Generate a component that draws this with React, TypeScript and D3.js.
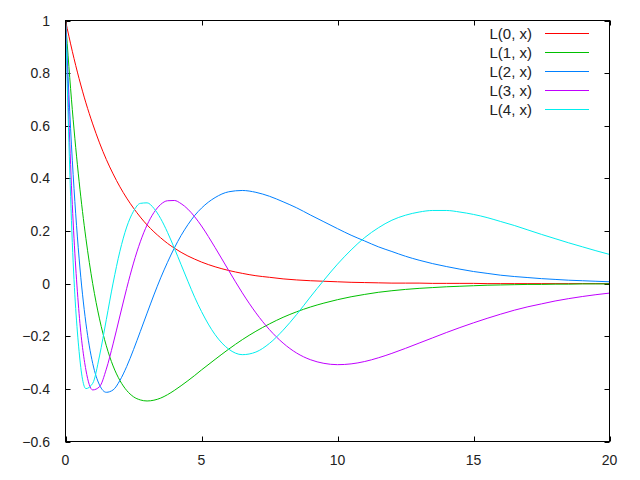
import React from 'react';
import * as d3 from 'd3';

// sample positions along x (finer near the origin where the curves move fast)
const xs = [
  0, 0.25, 0.5, 0.75, 1, 1.25, 1.5, 1.75, 2, 2.25, 2.5, 2.75, 3, 3.25, 3.5, 3.75, 4, 4.25, 4.5, 4.75, 5,
  5.5, 6, 6.5, 7, 7.5, 8, 8.5, 9, 9.5, 10, 10.5, 11, 11.5, 12, 12.5, 13, 13.5, 14, 14.5, 15,
  15.5, 16, 16.5, 17, 17.5, 18, 18.5, 19, 19.5, 20,
];

const l0 = [
  1, 0.883, 0.779, 0.687, 0.607, 0.535, 0.472, 0.417, 0.368, 0.325, 0.287, 0.253, 0.223, 0.197, 0.174, 0.153, 0.135, 0.119, 0.105, 0.093, 0.082,
  0.064, 0.050, 0.039, 0.030, 0.024, 0.018, 0.014, 0.011, 0.009, 0.007, 0.005, 0.004, 0.003, 0.002, 0.002, 0.002, 0.001, 0.001, 0.001, 0.001,
  0, 0, 0, 0, 0, 0, 0, 0, 0, 0,
];

const l1 = [
  1, 0.662, 0.389, 0.172, 0, -0.134, -0.236, -0.313, -0.368, -0.406, -0.430, -0.442, -0.446, -0.443, -0.435, -0.422, -0.406, -0.388, -0.369, -0.349, -0.328,
  -0.288, -0.249, -0.213, -0.181, -0.153, -0.128, -0.107, -0.089, -0.074, -0.061, -0.050, -0.041, -0.033, -0.027, -0.022, -0.018, -0.015, -0.012, -0.010, -0.008,
  -0.006, -0.005, -0.004, -0.003, -0.003, -0.002, -0.002, -0.001, -0.001, -0.001,
];

const l2 = [
  1, 0.469, 0.097, -0.150, -0.303, -0.385, -0.413, -0.404, -0.368, -0.315, -0.251, -0.182, -0.112, -0.043, 0.022, 0.081, 0.135, 0.183, 0.224, 0.259, 0.287,
  0.327, 0.349, 0.354, 0.347, 0.332, 0.311, 0.288, 0.261, 0.235, 0.209, 0.184, 0.162, 0.140, 0.122, 0.104, 0.089, 0.076, 0.065, 0.055, 0.046,
  0.039, 0.032, 0.027, 0.023, 0.019, 0.016, 0.013, 0.011, 0.009, 0.007,
];

const l3 = [
  1, 0.301, -0.114, -0.328, -0.404, -0.392, -0.325, -0.229, -0.123, -0.018, 0.078, 0.159, 0.223, 0.270, 0.301, 0.315, 0.316, 0.304, 0.283, 0.254, 0.219,
  0.137, 0.050, -0.035, -0.111, -0.175, -0.226, -0.264, -0.289, -0.303, -0.308, -0.305, -0.296, -0.282, -0.265, -0.246, -0.226, -0.206, -0.186, -0.167, -0.149,
  -0.132, -0.116, -0.101, -0.088, -0.077, -0.066, -0.057, -0.049, -0.042, -0.036,
];

const l4 = [
  1, 0.156, -0.258, -0.399, -0.379, -0.275, -0.137, 0.002, 0.123, 0.215, 0.275, 0.305, 0.307, 0.286, 0.247, 0.195, 0.135, 0.072, 0.009, -0.052, -0.106,
  -0.194, -0.249, -0.270, -0.260, -0.227, -0.177, -0.117, -0.051, 0.013, 0.074, 0.128, 0.175, 0.212, 0.241, 0.260, 0.272, 0.278, 0.278, 0.272, 0.263,
  0.251, 0.236, 0.221, 0.204, 0.187, 0.171, 0.155, 0.140, 0.125, 0.111,
];

const seriesNames = ['L(0, x)', 'L(1, x)', 'L(2, x)', 'L(3, x)', 'L(4, x)'];
const seriesValues = [l0, l1, l2, l3, l4];
const seriesColors = ['#ff0000', '#00c000', '#0080ff', '#c000ff', '#00eeee'];

const xTicks = [0, 5, 10, 15, 20];
const yTicks = [-0.6, -0.4, -0.2, 0, 0.2, 0.4, 0.6, 0.8, 1];

const W = 640;
const H = 480;
const left = 65.5;
const right = 609.5;
const top = 20.5;
const bottom = 441.5;
const tickLen = 5;
const font = '"Liberation Sans", Arial, sans-serif';

const App = () => {
  const x = d3.scaleLinear().domain([0, 20]).range([left, right]);
  const y = d3.scaleLinear().domain([-0.6, 1]).range([bottom, top]);

  const line = d3.line<number>()
    .x((d, i) => x(xs[i]))
    .y((d) => y(d))
    .curve(d3.curveMonotoneX);

  return (
    <svg width={W} height={H} style={{ position: 'absolute', left: 0, top: 0, background: '#fff' }}
      fontFamily={font} fontSize={14}>
      <rect x={0} y={0} width={W} height={H} fill="#fff" />

      {/* ticks on all four sides, pointing inward */}
      {xTicks.map((t) => (
        <g key={`xt${t}`}>
          <line x1={Math.round(x(t)) + 0.5} x2={Math.round(x(t)) + 0.5} y1={bottom} y2={bottom - tickLen} stroke="#000" />
          <line x1={Math.round(x(t)) + 0.5} x2={Math.round(x(t)) + 0.5} y1={top} y2={top + tickLen} stroke="#000" />
          <text x={x(t)} y={460} textAnchor="middle" dominantBaseline="central" fill="#222">{t}</text>
        </g>
      ))}
      {yTicks.map((t) => (
        <g key={`yt${t}`}>
          <line x1={left} x2={left + tickLen} y1={Math.round(y(t)) + 0.5} y2={Math.round(y(t)) + 0.5} stroke="#000" />
          <line x1={right} x2={right - tickLen} y1={Math.round(y(t)) + 0.5} y2={Math.round(y(t)) + 0.5} stroke="#000" />
          <text x={50} y={y(t)} textAnchor="end" dominantBaseline="central" fill="#222">{d3.format('')(+t.toFixed(1))}</text>
        </g>
      ))}

      {seriesValues.map((vals, i) => (
        <path key={seriesNames[i]} d={line(vals) || ''} fill="none" stroke={seriesColors[i]} strokeWidth={1} />
      ))}

      <rect x={left} y={top} width={right - left} height={bottom - top} fill="none" stroke="#000" />

      {/* legend */}
      {seriesNames.map((name, i) => (
        <g key={`lg${name}`}>
          <text x={532} y={33.5 + i * 19} textAnchor="end" dominantBaseline="central" fontSize={15} fill="#222">{name}</text>
          <line x1={545} x2={589} y1={33.5 + i * 19} y2={33.5 + i * 19} stroke={seriesColors[i]} />
        </g>
      ))}
    </svg>
  );
};

export default App;
